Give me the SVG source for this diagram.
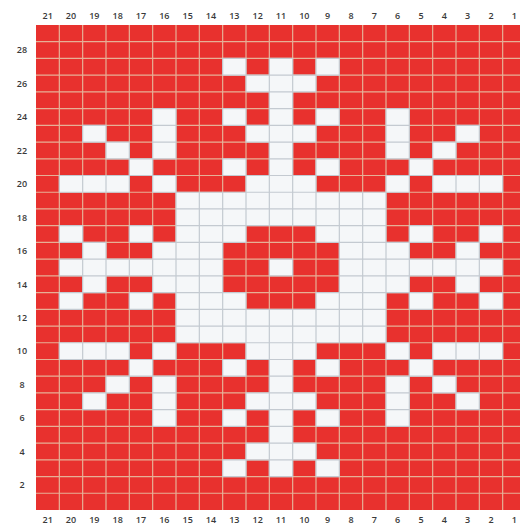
<svg xmlns="http://www.w3.org/2000/svg" width="520" height="524" viewBox="0 0 520 524">
<style>
.lbl{font-family:"Open Sans","Liberation Sans",sans-serif;font-size:9px;font-weight:600;fill:#3a3a3a;text-anchor:middle}
.grid{fill:none;stroke:#e6b096;stroke-width:1.2}
.white{fill:#f5f7f9;stroke:#c4cad1;stroke-width:1.2}
</style>
<rect x="0" y="0" width="520" height="524" fill="#ffffff"/>
<g id="chart" transform="translate(36,25) scale(23.3333,16.7241)">
<rect x="0" y="0" width="21" height="29" fill="#e8312e"/>
<path class="grid" vector-effect="non-scaling-stroke" d="M1 0V29M2 0V29M3 0V29M4 0V29M5 0V29M6 0V29M7 0V29M8 0V29M9 0V29M10 0V29M11 0V29M12 0V29M13 0V29M14 0V29M15 0V29M16 0V29M17 0V29M18 0V29M19 0V29M20 0V29M0 1H21M0 2H21M0 3H21M0 4H21M0 5H21M0 6H21M0 7H21M0 8H21M0 9H21M0 10H21M0 11H21M0 12H21M0 13H21M0 14H21M0 15H21M0 16H21M0 17H21M0 18H21M0 19H21M0 20H21M0 21H21M0 22H21M0 23H21M0 24H21M0 25H21M0 26H21M0 27H21M0 28H21"/>
<path class="white" vector-effect="non-scaling-stroke" d="
M8 2h1v1h-1zM10 2h1v1h-1zM12 2h1v1h-1z
M9 3h1v1h-1zM10 3h1v1h-1zM11 3h1v1h-1z
M10 4h1v1h-1z
M5 5h1v1h-1zM8 5h1v1h-1zM10 5h1v1h-1zM12 5h1v1h-1zM15 5h1v1h-1z
M2 6h1v1h-1zM5 6h1v1h-1zM9 6h1v1h-1zM10 6h1v1h-1zM11 6h1v1h-1zM15 6h1v1h-1zM18 6h1v1h-1z
M3 7h1v1h-1zM5 7h1v1h-1zM10 7h1v1h-1zM15 7h1v1h-1zM17 7h1v1h-1z
M4 8h1v1h-1zM8 8h1v1h-1zM10 8h1v1h-1zM12 8h1v1h-1zM16 8h1v1h-1z
M1 9h1v1h-1zM2 9h1v1h-1zM3 9h1v1h-1zM5 9h1v1h-1zM9 9h1v1h-1zM10 9h1v1h-1zM11 9h1v1h-1zM15 9h1v1h-1zM17 9h1v1h-1zM18 9h1v1h-1zM19 9h1v1h-1z
M6 10h1v1h-1zM7 10h1v1h-1zM8 10h1v1h-1zM9 10h1v1h-1zM10 10h1v1h-1zM11 10h1v1h-1zM12 10h1v1h-1zM13 10h1v1h-1zM14 10h1v1h-1z
M6 11h1v1h-1zM7 11h1v1h-1zM8 11h1v1h-1zM9 11h1v1h-1zM10 11h1v1h-1zM11 11h1v1h-1zM12 11h1v1h-1zM13 11h1v1h-1zM14 11h1v1h-1z
M1 12h1v1h-1zM4 12h1v1h-1zM6 12h1v1h-1zM7 12h1v1h-1zM8 12h1v1h-1zM12 12h1v1h-1zM13 12h1v1h-1zM14 12h1v1h-1zM16 12h1v1h-1zM19 12h1v1h-1z
M2 13h1v1h-1zM5 13h1v1h-1zM6 13h1v1h-1zM7 13h1v1h-1zM13 13h1v1h-1zM14 13h1v1h-1zM15 13h1v1h-1zM18 13h1v1h-1z
M1 14h1v1h-1zM2 14h1v1h-1zM3 14h1v1h-1zM4 14h1v1h-1zM5 14h1v1h-1zM6 14h1v1h-1zM7 14h1v1h-1zM10 14h1v1h-1zM13 14h1v1h-1zM14 14h1v1h-1zM15 14h1v1h-1zM16 14h1v1h-1zM17 14h1v1h-1zM18 14h1v1h-1zM19 14h1v1h-1z
M2 15h1v1h-1zM5 15h1v1h-1zM6 15h1v1h-1zM7 15h1v1h-1zM13 15h1v1h-1zM14 15h1v1h-1zM15 15h1v1h-1zM18 15h1v1h-1z
M1 16h1v1h-1zM4 16h1v1h-1zM6 16h1v1h-1zM7 16h1v1h-1zM8 16h1v1h-1zM12 16h1v1h-1zM13 16h1v1h-1zM14 16h1v1h-1zM16 16h1v1h-1zM19 16h1v1h-1z
M6 17h1v1h-1zM7 17h1v1h-1zM8 17h1v1h-1zM9 17h1v1h-1zM10 17h1v1h-1zM11 17h1v1h-1zM12 17h1v1h-1zM13 17h1v1h-1zM14 17h1v1h-1z
M6 18h1v1h-1zM7 18h1v1h-1zM8 18h1v1h-1zM9 18h1v1h-1zM10 18h1v1h-1zM11 18h1v1h-1zM12 18h1v1h-1zM13 18h1v1h-1zM14 18h1v1h-1z
M1 19h1v1h-1zM2 19h1v1h-1zM3 19h1v1h-1zM5 19h1v1h-1zM9 19h1v1h-1zM10 19h1v1h-1zM11 19h1v1h-1zM15 19h1v1h-1zM17 19h1v1h-1zM18 19h1v1h-1zM19 19h1v1h-1z
M4 20h1v1h-1zM8 20h1v1h-1zM10 20h1v1h-1zM12 20h1v1h-1zM16 20h1v1h-1z
M3 21h1v1h-1zM5 21h1v1h-1zM10 21h1v1h-1zM15 21h1v1h-1zM17 21h1v1h-1z
M2 22h1v1h-1zM5 22h1v1h-1zM9 22h1v1h-1zM10 22h1v1h-1zM11 22h1v1h-1zM15 22h1v1h-1zM18 22h1v1h-1z
M5 23h1v1h-1zM8 23h1v1h-1zM10 23h1v1h-1zM12 23h1v1h-1zM15 23h1v1h-1z
M10 24h1v1h-1z
M9 25h1v1h-1zM10 25h1v1h-1zM11 25h1v1h-1z
M8 26h1v1h-1zM10 26h1v1h-1zM12 26h1v1h-1z"/>
</g>
<g id="col-labels-top">
<text class="lbl" x="47.7" y="18.5">21</text>
<text class="lbl" x="71" y="18.5">20</text>
<text class="lbl" x="94.3" y="18.5">19</text>
<text class="lbl" x="117.7" y="18.5">18</text>
<text class="lbl" x="141" y="18.5">17</text>
<text class="lbl" x="164.3" y="18.5">16</text>
<text class="lbl" x="187.7" y="18.5">15</text>
<text class="lbl" x="211" y="18.5">14</text>
<text class="lbl" x="234.3" y="18.5">13</text>
<text class="lbl" x="257.7" y="18.5">12</text>
<text class="lbl" x="281" y="18.5">11</text>
<text class="lbl" x="304.3" y="18.5">10</text>
<text class="lbl" x="327.7" y="18.5">9</text>
<text class="lbl" x="351" y="18.5">8</text>
<text class="lbl" x="374.3" y="18.5">7</text>
<text class="lbl" x="397.7" y="18.5">6</text>
<text class="lbl" x="421" y="18.5">5</text>
<text class="lbl" x="444.3" y="18.5">4</text>
<text class="lbl" x="467.7" y="18.5">3</text>
<text class="lbl" x="491" y="18.5">2</text>
<text class="lbl" x="514.3" y="18.5">1</text>
</g>
<g id="col-labels-bottom">
<text class="lbl" x="47.7" y="523">21</text>
<text class="lbl" x="71" y="523">20</text>
<text class="lbl" x="94.3" y="523">19</text>
<text class="lbl" x="117.7" y="523">18</text>
<text class="lbl" x="141" y="523">17</text>
<text class="lbl" x="164.3" y="523">16</text>
<text class="lbl" x="187.7" y="523">15</text>
<text class="lbl" x="211" y="523">14</text>
<text class="lbl" x="234.3" y="523">13</text>
<text class="lbl" x="257.7" y="523">12</text>
<text class="lbl" x="281" y="523">11</text>
<text class="lbl" x="304.3" y="523">10</text>
<text class="lbl" x="327.7" y="523">9</text>
<text class="lbl" x="351" y="523">8</text>
<text class="lbl" x="374.3" y="523">7</text>
<text class="lbl" x="397.7" y="523">6</text>
<text class="lbl" x="421" y="523">5</text>
<text class="lbl" x="444.3" y="523">4</text>
<text class="lbl" x="467.7" y="523">3</text>
<text class="lbl" x="491" y="523">2</text>
<text class="lbl" x="514.3" y="523">1</text>
</g>
<g id="row-labels">
<text class="lbl" x="22" y="53.3">28</text>
<text class="lbl" x="22" y="86.8">26</text>
<text class="lbl" x="22" y="120.2">24</text>
<text class="lbl" x="22" y="153.7">22</text>
<text class="lbl" x="22" y="187.1">20</text>
<text class="lbl" x="22" y="220.6">18</text>
<text class="lbl" x="22" y="254">16</text>
<text class="lbl" x="22" y="287.5">14</text>
<text class="lbl" x="22" y="320.9">12</text>
<text class="lbl" x="22" y="354.4">10</text>
<text class="lbl" x="22" y="387.8">8</text>
<text class="lbl" x="22" y="421.3">6</text>
<text class="lbl" x="22" y="454.7">4</text>
<text class="lbl" x="22" y="488.2">2</text>
</g>
</svg>
